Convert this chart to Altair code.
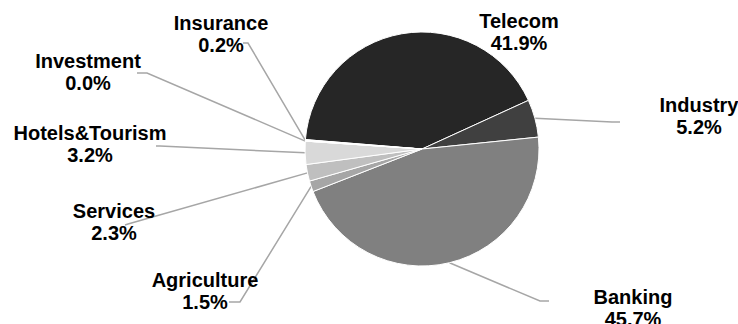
import math
import altair as alt
import pandas as pd

# Share of investment by sector (%)
sectors = ["Telecom", "Industry", "Banking", "Agriculture", "Services",
           "Hotels&Tourism", "Investment", "Insurance"]
shares = [41.9, 5.2, 45.7, 1.5, 2.3, 3.2, 0.0, 0.2]
shades = ["#262626", "#404040", "#808080", "#a6a6a6", "#bfbfbf",
          "#d9d9d9", "#f2f2f2", "#ffffff"]

# Canvas and pie geometry (pixels)
W, H = 738, 324
CX, CY, R = 422, 149, 117
START_DEG = 274.6  # first slice starts just above 9 o'clock, runs clockwise

# Label placement: centre x and first-line baseline y
label_pos = {
    "Telecom": (519, 28),
    "Industry": (699, 112),
    "Banking": (633, 304),
    "Agriculture": (205, 287),
    "Services": (114, 218),
    "Hotels&Tourism": (90, 140),
    "Investment": (88, 68),
    "Insurance": (221, 30),
}
# Leader lines: label end point, then elbow, then they run to the slice edge
leader_pts = {
    "Industry": [(620, 122), (612, 122)],
    "Banking": [(549, 301), (540, 301)],
    "Agriculture": [(229, 302), (240, 302)],
    "Services": [(125, 225), (128, 224)],
    "Hotels&Tourism": [(156, 146), (160, 146)],
    "Investment": [(137, 73), (147, 73)],
    "Insurance": [(243, 43), (248, 43)],
}

slices = pd.DataFrame({
    "sector": sectors,
    "share": shares,
    "idx": list(range(len(sectors))),
})

# Mid-angle of each slice -> point on the rim where the leader starts
rim = {}
acc = START_DEG
for s, v in zip(sectors, shares):
    span = v / sum(shares) * 360.0
    mid = math.radians(acc + span / 2)
    rim[s] = (CX + R * math.sin(mid), CY - R * math.cos(mid))
    acc += span

line_rows = []
for s, pts in leader_pts.items():
    seq = pts + [rim[s]]
    for i, (px, py) in enumerate(seq):
        line_rows.append({"sector": s, "seq": i, "x": px, "y": py})
leaders = pd.DataFrame(line_rows)

labels = pd.DataFrame({
    "sector": sectors,
    "x": [label_pos[s][0] for s in sectors],
    "y1": [label_pos[s][1] for s in sectors],
    "y2": [label_pos[s][1] + 22 for s in sectors],
    "pct": [f"{v:.1f}%" for v in shares],
})

xs = alt.Scale(domain=[0, W], nice=False, zero=False)
ys = alt.Scale(domain=[0, H], nice=False, zero=False, reverse=True)
start = math.radians(START_DEG)

pie = alt.Chart(slices).mark_arc(
    outerRadius=R, stroke="white", strokeWidth=1
).encode(
    theta=alt.Theta("share:Q", stack=True,
                    scale=alt.Scale(range=[start, start + 2 * math.pi])),
    order=alt.Order("idx:Q"),
    color=alt.Color("sector:N", scale=alt.Scale(domain=sectors, range=shades),
                    legend=None),
    x=alt.value(CX),
    y=alt.value(CY),
)

lines = alt.Chart(leaders).mark_line(color="#a6a6a6", strokeWidth=1.5).encode(
    x=alt.X("x:Q", scale=xs, axis=None),
    y=alt.Y("y:Q", scale=ys, axis=None),
    detail="sector:N",
    order="seq:Q",
)

text_style = dict(font="Liberation Sans", fontWeight="bold", fontSize=20,
                  color="#000000", align="center", baseline="alphabetic")

names = alt.Chart(labels).mark_text(**text_style).encode(
    x=alt.X("x:Q", scale=xs, axis=None),
    y=alt.Y("y1:Q", scale=ys, axis=None),
    text="sector:N",
)
pcts = alt.Chart(labels).mark_text(**text_style).encode(
    x=alt.X("x:Q", scale=xs, axis=None),
    y=alt.Y("y2:Q", scale=ys, axis=None),
    text="pct:N",
)

chart = alt.layer(lines, pie, names, pcts).properties(
    width=W, height=H, padding=0, autosize=alt.AutoSizeParams(type="none"),
    background="white",
).configure_view(stroke=None)

chart.save("out.html", embed_options={"renderer": "svg", "actions": False})
